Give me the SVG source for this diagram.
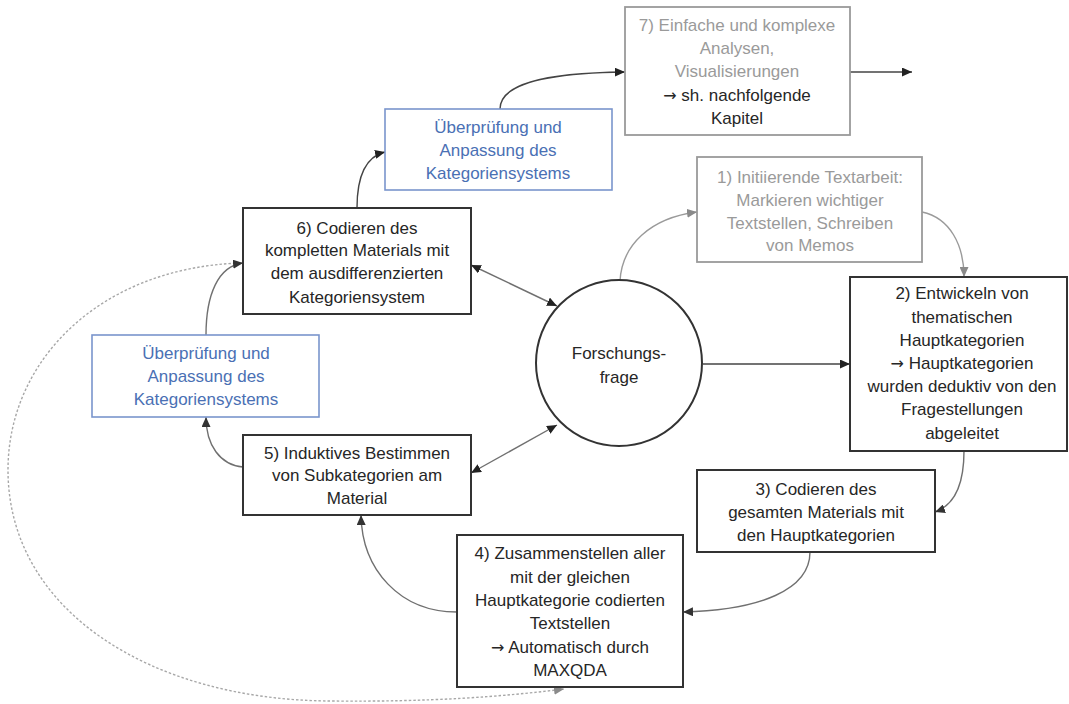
<svg xmlns="http://www.w3.org/2000/svg" width="1069" height="704" viewBox="0 0 1069 704">
  <style>
    .box { fill: #ffffff; stroke: #333333; stroke-width: 2; }
    .box-gray { fill: #ffffff; stroke: #9a9a9a; stroke-width: 1.8; }
    .box-blue { fill: #ffffff; stroke: #7a95cc; stroke-width: 1.6; }
    text { font-family: "Liberation Sans", Arial, sans-serif; font-size: 17px; text-anchor: middle; }
    .arr { font-family: "DejaVu Sans", sans-serif; font-size: 16px; }
    .t-dark { fill: #262626; }
    .t-gray { fill: #9a9a9a; }
    .t-blue { fill: #4a70b4; }
    .c-dark { fill: none; stroke: #444444; stroke-width: 1.4; }
    .c-mid { fill: none; stroke: #707070; stroke-width: 1.4; }
    .c-light { fill: none; stroke: #9a9a9a; stroke-width: 1.4; }
    .c-dash { fill: none; stroke: #a8a8a8; stroke-width: 1.4; stroke-dasharray: 2.5 2; }
  </style>
  <defs>
    <marker id="ah-dark" markerUnits="userSpaceOnUse" markerWidth="11" markerHeight="9" refX="10" refY="4.5" orient="auto-start-reverse">
      <path d="M0,0 L10,4.5 L0,9 Z" fill="#222222"/>
    </marker>
    <marker id="ah-mid" markerUnits="userSpaceOnUse" markerWidth="11" markerHeight="9" refX="10" refY="4.5" orient="auto">
      <path d="M0,0 L10,4.5 L0,9 Z" fill="#333333"/>
    </marker>
    <marker id="ah-light" markerUnits="userSpaceOnUse" markerWidth="11" markerHeight="9" refX="10" refY="4.5" orient="auto">
      <path d="M0,0 L10,4.5 L0,9 Z" fill="#8a8a8a"/>
    </marker>
  </defs>

  <!-- connectors -->
  <g id="connectors">
    <!-- dashed loop from step 6 round to step 4 -->
    <path class="c-dash" d="M 240,263 C 100,268 8,360 8,470 C 8,610 150,700 330,701 C 430,702 500,697 564,689" marker-end="url(#ah-light)"/>
    <!-- outer cycle -->
    <path class="c-dark" d="M 500,109 C 500,85 540,73 625,72" marker-end="url(#ah-dark)"/>
    <path class="c-dark" d="M 850,72 L 912,72" marker-end="url(#ah-dark)"/>
    <path class="c-dark" d="M 357,208 C 357,180 364,157 385,152" marker-end="url(#ah-dark)"/>
    <path class="c-light" d="M 620,281 C 622,245 650,218 697,212" marker-end="url(#ah-light)"/>
    <path class="c-light" d="M 922,212 C 950,218 964,245 964,277" marker-end="url(#ah-light)"/>
    <path class="c-dark" d="M 703,364 L 850,364" marker-end="url(#ah-dark)"/>
    <path class="c-mid" d="M 964,451 C 964,485 955,505 935,512" marker-end="url(#ah-mid)"/>
    <path class="c-mid" d="M 810,552 C 810,590 760,610 683,612" marker-end="url(#ah-mid)"/>
    <path class="c-mid" d="M 457,612 C 400,612 362,570 361,515" marker-end="url(#ah-mid)"/>
    <path class="c-mid" d="M 243,467 C 220,465 206,445 206,417" marker-end="url(#ah-mid)"/>
    <path class="c-mid" d="M 206,335 C 206,295 218,266 243,263" marker-end="url(#ah-mid)"/>
    <!-- links between the research question and steps 5 / 6 -->
    <path class="c-mid" d="M 471,265 L 557,306" marker-start="url(#ah-dark)" marker-end="url(#ah-dark)"/>
    <path class="c-mid" d="M 471,473 L 557,425" marker-start="url(#ah-dark)" marker-end="url(#ah-dark)"/>
  </g>

  <!-- 7) analyses -->
  <g id="step7">
    <rect class="box-gray" x="625" y="7" width="225" height="128"/>
    <text class="t-gray" x="737" y="31">7) Einfache und komplexe</text>
    <text class="t-gray" x="737" y="54">Analysen,</text>
    <text class="t-gray" x="737" y="77">Visualisierungen</text>
    <text class="t-dark" x="737" y="101"><tspan class="arr">→</tspan> sh. nachfolgende</text>
    <text class="t-dark" x="737" y="124">Kapitel</text>
  </g>

  <!-- review, upper -->
  <g id="review-upper">
    <rect class="box-blue" x="385" y="109" width="227" height="81"/>
    <text class="t-blue" x="498" y="133">Überprüfung und</text>
    <text class="t-blue" x="498" y="156">Anpassung des</text>
    <text class="t-blue" x="498" y="179">Kategoriensystems</text>
  </g>

  <!-- 1) initial text work -->
  <g id="step1">
    <rect class="box-gray" x="697" y="157" width="225" height="105"/>
    <text class="t-gray" x="810" y="183">1) Initiierende Textarbeit:</text>
    <text class="t-gray" x="810" y="206">Markieren wichtiger</text>
    <text class="t-gray" x="810" y="229">Textstellen, Schreiben</text>
    <text class="t-gray" x="810" y="251">von Memos</text>
  </g>

  <!-- 6) coding the complete material -->
  <g id="step6">
    <rect class="box" x="243" y="208" width="228" height="106"/>
    <text class="t-dark" x="357" y="234">6) Codieren des</text>
    <text class="t-dark" x="357" y="256">kompletten Materials mit</text>
    <text class="t-dark" x="357" y="279">dem ausdifferenzierten</text>
    <text class="t-dark" x="357" y="303">Kategoriensystem</text>
  </g>

  <!-- research question -->
  <g id="question">
    <circle cx="619" cy="363" r="83" fill="#ffffff" stroke="#333333" stroke-width="2"/>
    <text class="t-dark" x="619" y="359">Forschungs-</text>
    <text class="t-dark" x="619" y="383">frage</text>
  </g>

  <!-- 2) main categories -->
  <g id="step2">
    <rect class="box" x="850" y="277" width="217" height="174"/>
    <text class="t-dark" x="962" y="299">2) Entwickeln von</text>
    <text class="t-dark" x="962" y="323">thematischen</text>
    <text class="t-dark" x="962" y="346">Hauptkategorien</text>
    <text class="t-dark" x="962" y="369"><tspan class="arr">→</tspan> Hauptkategorien</text>
    <text class="t-dark" x="962" y="392">wurden deduktiv von den</text>
    <text class="t-dark" x="962" y="415">Fragestellungen</text>
    <text class="t-dark" x="962" y="439">abgeleitet</text>
  </g>

  <!-- review, lower -->
  <g id="review-lower">
    <rect class="box-blue" x="92" y="335" width="227" height="82"/>
    <text class="t-blue" x="206" y="359">Überprüfung und</text>
    <text class="t-blue" x="206" y="382">Anpassung des</text>
    <text class="t-blue" x="206" y="405">Kategoriensystems</text>
  </g>

  <!-- 5) inductive subcategories -->
  <g id="step5">
    <rect class="box" x="243" y="435" width="228" height="80"/>
    <text class="t-dark" x="357" y="459">5) Induktives Bestimmen</text>
    <text class="t-dark" x="357" y="481">von Subkategorien am</text>
    <text class="t-dark" x="357" y="504">Material</text>
  </g>

  <!-- 3) coding with main categories -->
  <g id="step3">
    <rect class="box" x="697" y="470" width="238" height="82"/>
    <text class="t-dark" x="816" y="495">3) Codieren des</text>
    <text class="t-dark" x="816" y="518">gesamten Materials mit</text>
    <text class="t-dark" x="816" y="541">den Hauptkategorien</text>
  </g>

  <!-- 4) compiling coded passages -->
  <g id="step4">
    <rect class="box" x="457" y="535" width="226" height="152"/>
    <text class="t-dark" x="570" y="559">4) Zusammenstellen aller</text>
    <text class="t-dark" x="570" y="583">mit der gleichen</text>
    <text class="t-dark" x="570" y="606">Hauptkategorie codierten</text>
    <text class="t-dark" x="570" y="629">Textstellen</text>
    <text class="t-dark" x="570" y="653"><tspan class="arr">→</tspan> Automatisch durch</text>
    <text class="t-dark" x="570" y="676">MAXQDA</text>
  </g>
</svg>
